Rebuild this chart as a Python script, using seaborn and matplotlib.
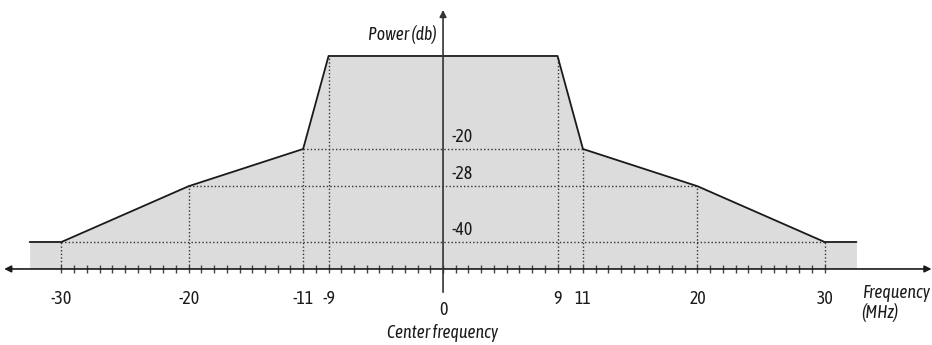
import matplotlib
matplotlib.use("Agg")
import matplotlib.pyplot as plt
import seaborn as sns
import pandas as pd
import numpy as np

# ---- data ----
freq = [-32.5, -30, -20, -11, -9, 9, 11, 20, 30, 32.5]
power = [-40, -40, -28, -20, 0, 0, -20, -28, -40, -40]
major_ticks = [-30, -20, -11, -9, 9, 11, 20, 30]
major_labels = ["-30", "-20", "-11", "-9", "9", "11", "20", "30"]
level_values = [-20, -28, -40]
level_labels = ["-20", "-28", "-40"]
level_extent = [11, 20, 30]
minor_ticks = list(range(-30, 31))

sns.set_theme(style="white")
plt.rcParams['font.family'] = ['Asap Condensed', 'Archivo Narrow', 'DejaVu Sans']

fig = plt.figure(figsize=(9.32, 3.45), dpi=100)
ax = fig.add_axes([0, 0, 1, 1])
ax.set_xlim(-34.83, 38.44)
ax.set_ylim(-62.15, 12.04)
ax.axis("off")

base = -45.8
ink = "#1a1a1a"
fs = 12.8

df = pd.DataFrame({"freq": freq, "power": power})
ax.fill_between(df["freq"], df["power"], base, color="#dcdcdc", lw=0, zorder=1)
sns.lineplot(data=df, x="freq", y="power", ax=ax, color=ink, lw=1.3,
             sort=False, zorder=3)

dot = dict(color="#333333", lw=1.0, linestyle=(0, (1, 1.6)), zorder=2)
# horizontal dotted levels
for v, e in zip(level_values, level_extent):
    ax.plot([-e, e], [v, v], **dot)
# vertical dotted lines from axis to curve
for t in major_ticks:
    ax.plot([t, t], [base, float(np.interp(t, freq, power))], **dot)

# minor ticks
ax.vlines(minor_ticks, base - 0.9, base + 0.9, color="#444444", lw=1.0, zorder=4)

# x axis with arrows on both ends
ax.annotate("", xy=(-34.5, base), xytext=(38.4, base),
            arrowprops=dict(arrowstyle="<|-|>", color=ink, lw=1.2,
                            mutation_scale=10, shrinkA=0, shrinkB=0), zorder=5)
# y axis
ax.annotate("", xy=(0, 9.9), xytext=(0, -50.8),
            arrowprops=dict(arrowstyle="-|>", color="#333333", lw=1.2,
                            mutation_scale=10, shrinkA=0, shrinkB=0), zorder=5)

for t, lab in zip(major_ticks, major_labels):
    ax.text(t, -52.3, lab, ha="center", va="center", fontsize=fs, color=ink)
ax.text(0, -54.6, "0", ha="center", va="center", fontsize=fs, color=ink)
ax.text(0, -59.6, "Center frequency", ha="center", va="center", fontsize=fs,
        style="italic", color=ink)
ax.text(32.9, -51.0, "Frequency", ha="left", va="center", fontsize=fs,
        style="italic", color=ink)
ax.text(32.9, -55.2, "(MHz)", ha="left", va="center", fontsize=fs,
        style="italic", color=ink)
ax.text(-0.5, 4.6, "Power (db)", ha="right", va="center", fontsize=fs,
        style="italic", color=ink)
for v, lab in zip(level_values, level_labels):
    ax.text(0.7, v + 2.6, lab, ha="left", va="center", fontsize=fs, color=ink)

fig.savefig("out.png", dpi=100)
